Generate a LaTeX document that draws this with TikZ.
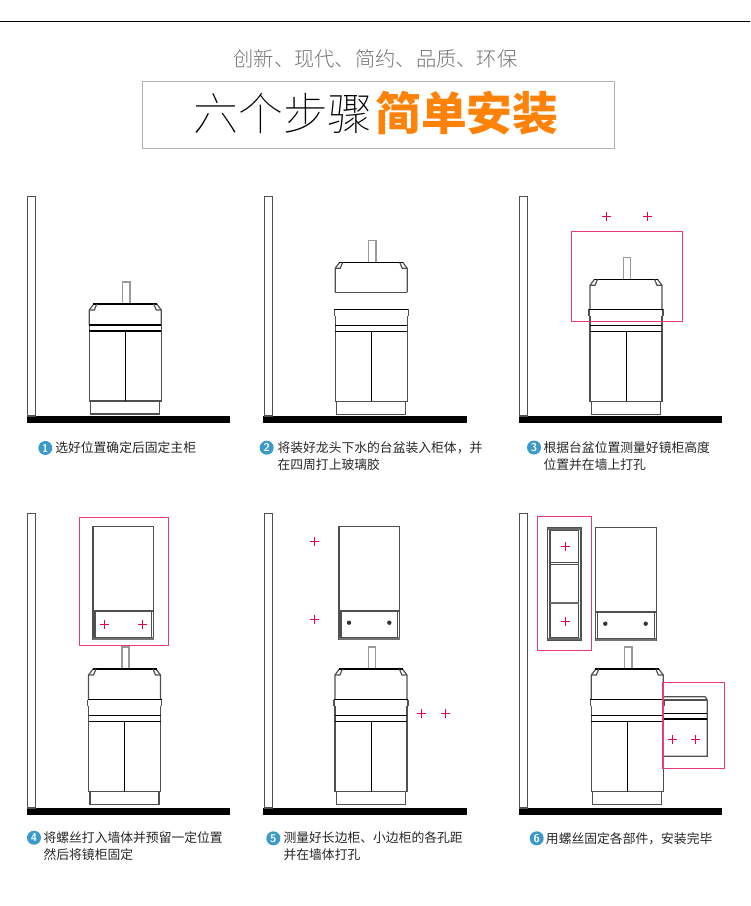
\documentclass[tikz,border=0pt]{standalone}
\usepackage{fontspec}
\newfontfamily\cjk{Noto Sans CJK SC}
\newfontfamily\cjklight{Noto Sans CJK SC Light}
\newfontfamily\cjkthin{Noto Sans CJK SC Thin}
\definecolor{pinkline}{HTML}{E8397F}
\definecolor{crossred}{HTML}{E5005A}
\definecolor{linegray}{HTML}{505050}
\definecolor{tapgray}{HTML}{9A9A9A}
\definecolor{stepblue}{HTML}{3B9AC9}
\definecolor{titleorange}{HTML}{FF8208}

\begin{document}
\begin{tikzpicture}[x=0.75pt,y=-0.75pt]
\tikzset{
  cabline/.style={draw=linegray,line width=0.9pt},
  blackline/.style={draw=black,line width=0.85pt},
  wallbox/.style={draw=linegray,line width=0.9pt,fill=white},
  floorbar/.style={fill=black},
  tapbox/.style={draw=tapgray,line width=1.15pt,fill=white},
  pinkbox/.style={draw=pinkline,line width=0.9pt},
  crossline/.style={draw=crossred,line width=0.75pt},
  stepnum/.style={circle,fill=stepblue,text=white,inner sep=0pt,minimum size=10.5pt,font=\sffamily\bfseries\fontsize{8.5}{9}\selectfont},
  steptext/.style={anchor=west,inner sep=0pt,align=left,text=black!85,font=\cjk\fontsize{9.6}{12.4}\selectfont},
  pics/plusmark/.style={code={
    \draw[crossline] (-4.5,0) -- (4.5,0) (0,-4.5) -- (0,4.5);
  }},
  pics/basin/.style={code={
    \draw[tapbox] (-2.6,-22) rectangle (4.6,0);
    \draw[cabline] (-36,#1) -- (-36,6) -- (-31.5,0);
    \draw[cabline] (36,#1) -- (36,6) -- (31.5,0);
    \draw[blackline] (-32,0) -- (32,0);
    \draw[cabline] (-36,6) -- (-31,6) -- (-28.5,0);
    \draw[cabline] (36,6) -- (31,6) -- (28.5,0);
  }},
  pics/cablip/.style={code={
    \draw[cabline] (-37,-85.3) -- (-37,-92);
    \draw[cabline] (37,-85.3) -- (37,-92);
    \draw[blackline] (-37,-92) -- (37,-92);
    \draw[cabline] (-36,-85.3) -- (-36,-76);
    \draw[cabline] (36,-85.3) -- (36,-76);
  }},
  pics/cabbody/.style={code={
    \draw[cabline] (-36,-76) -- (-36,0) -- (36,0) -- (36,-76);
    \draw[blackline] (-36,-76) -- (36,-76);
    \draw[blackline] (-36,-70) -- (36,-70);
    \draw[blackline] (0.3,-70) -- (0.3,0);
    \draw[cabline] (-34.5,0) -- (-34.5,13) -- (34.5,13) -- (34.5,0);
  }},
  pics/mirrorcab/.style={code={
    \draw[cabline] (0,0) rectangle (60.7,113);
    \draw[cabline] (0,84.5) -- (60.7,84.5);
    \fill[linegray!80] (0,110.6) rectangle (60.7,113);
    \draw[cabline] (2,84.5) -- (2,110.6) -- (58.7,110.6) -- (58.7,84.5);
  }}
}
\useasboundingbox (0,0) rectangle (750,906);
\fill[black] (0,20.6) rectangle (750,22);

\node[inner sep=0pt,text=black!55,font=\cjklight\fontsize{15.2}{18}\selectfont] (subtitle) at (375.5,59.3) {创新、现代、简约、品质、环保};
\draw[draw=black!30,line width=0.75pt] (142.5,81.5) rectangle (614.5,148.5);
\node[anchor=east,inner sep=0pt,font=\cjkthin\fontsize{33.6}{36}\selectfont] (titleleft) at (373,113) {六个步骤};
\node[anchor=west,inner sep=0pt,text=titleorange,font=\cjk\bfseries\fontsize{34.3}{36}\selectfont] (titleright) at (375,113) {简单安装};

\fill[floorbar] (27,416) rectangle (230,423);
\draw[wallbox] (27.5,196.5) rectangle (35.5,416);
\pic at (125.3,304) {basin=21.3};
\pic at (125.3,401) {cabbody};
\node[stepnum] (num1) at (45.3,448) {1};
\node[steptext] (text1) at (55,448) {选好位置确定后固定主柜};

\fill[floorbar] (263.3,416) rectangle (466.7,423);
\draw[wallbox] (264.5,196.5) rectangle (272.5,416);
\pic at (371.2,262.3) {basin=30};
\draw[cabline] (335.2,292.3) -- (407.2,292.3);
\pic at (371.2,401.3) {cablip};
\pic at (371.2,401.3) {cabbody};
\node[stepnum] (num2) at (266.7,447.7) {2};
\node[steptext,anchor=north west] (text2) at (277.3,441.5) {将装好龙头下水的台盆装入柜体，并\\在四周打上玻璃胶};

\fill[floorbar] (519,416) rectangle (721.7,423);
\draw[wallbox] (519.5,196.5) rectangle (527.5,416);
\pic at (626,279.3) {basin=30};
\pic at (626,401.3) {cablip};
\pic at (626,401.3) {cabbody};
\draw[pinkbox] (571.3,231.3) rectangle (682.3,321.3);
\pic at (606.5,216.5) {plusmark};
\pic at (647.5,216.5) {plusmark};
\node[stepnum] (num3) at (534,447.5) {3};
\node[steptext,anchor=north west] (text3) at (543.3,441.5) {根据台盆位置测量好镜柜高度\\位置并在墙上打孔};

\fill[floorbar] (27,808) rectangle (230,814.7);
\draw[wallbox] (27.5,513.5) rectangle (35.5,808);
\pic at (93,526.5) {mirrorcab};
\pic at (104.5,624.5) {plusmark};
\pic at (142.5,624.5) {plusmark};
\draw[pinkbox] (79.3,517.3) rectangle (168.7,645.7);
\pic at (124.5,669) {basin=30};
\pic at (124.5,791.7) {cablip};
\pic at (124.5,791.7) {cabbody};
\node[stepnum] (num4) at (34,837.7) {4};
\node[steptext,anchor=north west] (text4) at (43.3,831.5) {将螺丝打入墙体并预留一定位置\\然后将镜柜固定};

\fill[floorbar] (263.3,808) rectangle (466.7,814.7);
\draw[wallbox] (264.5,513.5) rectangle (272.5,808);
\pic at (339,526.5) {mirrorcab};
\fill[black!80] (349,622.7) circle (2.2);
\fill[black!80] (389.3,622.7) circle (2.2);
\pic at (370.9,669) {basin=30};
\pic at (370.9,791.7) {cablip};
\pic at (370.9,791.7) {cabbody};
\pic at (314.5,541.5) {plusmark};
\pic at (314.5,619.5) {plusmark};
\pic at (421.5,713.5) {plusmark};
\pic at (445.5,713.5) {plusmark};
\node[stepnum] (num5) at (273.3,838.3) {5};
\node[steptext,anchor=north west] (text5) at (283.3,831.5) {测量好长边柜、小边柜的各孔距\\并在墙体打孔};

\fill[floorbar] (519,808) rectangle (721.7,814.7);
\draw[wallbox] (519.5,513.5) rectangle (527.5,808);
\draw[cabline,line width=1.1pt] (547.7,527.7) rectangle (581,640.3);
\draw[cabline] (550,530) rectangle (578.7,638);
\fill[linegray!85] (547.7,527.7) rectangle (581,530);
\fill[linegray!85] (547.7,637.8) rectangle (581,640.3);
\draw[cabline] (550,562.5) -- (578.7,562.5);
\draw[cabline] (550,564.5) -- (578.7,564.5);
\fill[linegray!85] (550,601.7) rectangle (578.7,604.3);
\pic at (565.5,546.5) {plusmark};
\pic at (565.5,621.5) {plusmark};
\draw[pinkbox] (537.3,516.7) rectangle (591.7,650.3);
\pic at (595.5,527.5) {mirrorcab};
\fill[black!80] (605.3,623.7) circle (2.2);
\fill[black!80] (645.7,623.7) circle (2.2);
\pic at (627.3,669) {basin=30};
\pic at (627.3,791.7) {cablip};
\pic at (627.3,791.7) {cabbody};
\draw[cabline] (663,696.7) -- (705,696.7) -- (707.3,700) -- (707.3,756.3) -- (663,756.3);
\draw[cabline] (663,700) -- (707.3,700);
\draw[blackline] (663,713.3) -- (707.3,713.3);
\draw[blackline] (663,719) -- (707.3,719);
\draw[pinkbox] (663,682.3) rectangle (724.7,768.3);
\pic at (672.5,739.5) {plusmark};
\pic at (695.5,739.5) {plusmark};
\node[stepnum] (num6) at (536.7,838.3) {6};
\node[steptext] (text6) at (545.7,838.3) {用螺丝固定各部件，安装完毕};
\end{tikzpicture}
\end{document}
